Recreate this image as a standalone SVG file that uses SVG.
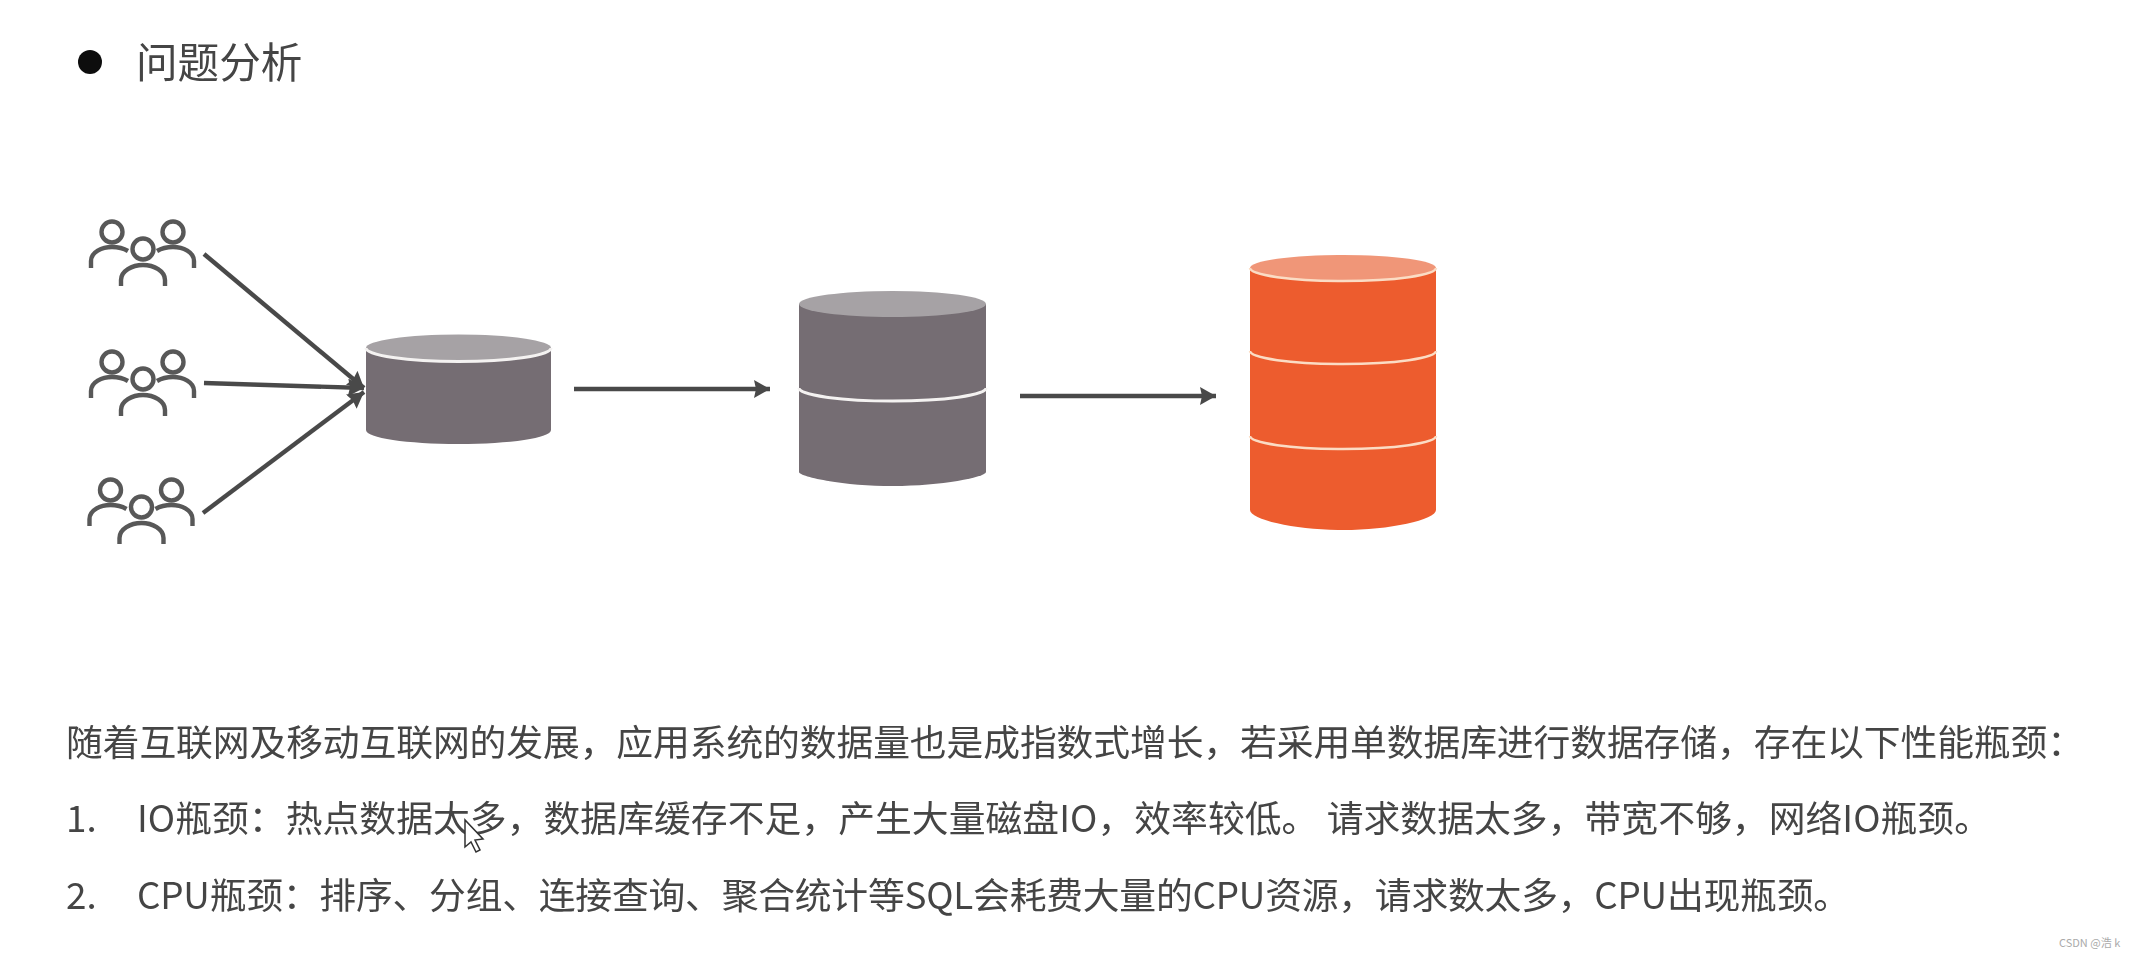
<svg xmlns="http://www.w3.org/2000/svg" width="2134" height="958" viewBox="0 0 2134 958">
<style>
text{font-family:"Noto Sans CJK SC","Noto Sans",sans-serif;fill:#454545;font-size:36.8px}
.u{fill:none;stroke:#595959;stroke-width:4.400}
.c{stroke:#4a4a4a;stroke-width:4.400;fill:none;marker-end:url(#a)}
.gb{fill:#756d73}.gt{fill:#a6a2a5}.ob{fill:#ed5c2e}.ot{fill:#f09678}
.ws{fill:none;stroke:#f4f2f1;stroke-width:3}.os{fill:none;stroke:#fbdcc4;stroke-width:2.500}
</style>
<defs>
<filter id="b" x="-2%" y="-2%" width="104%" height="104%"><feGaussianBlur stdDeviation="0.6"/></filter>
<marker id="a" markerUnits="userSpaceOnUse" markerWidth="20" markerHeight="20" refX="16" refY="9" orient="auto"><path d="M0 0L16 9L0 18L2 9Z" fill="#4a4a4a"/></marker>
<g id="users">
<circle class="u" cx="112" cy="232" r="10.500"/><circle class="u" cx="173" cy="232" r="10.500"/><circle class="u" cx="143" cy="249" r="10.500"/>
<path class="u" d="M91 268V261C91 252 102 247 112 247C118 247 123 248 128 251"/>
<path class="u" d="M194 268V261C194 252 183 247 173 247C167 247 162 248 157 251"/>
<path class="u" d="M121 286V280C121 271 132 265 143 265C154 265 165 271 165 280V286"/>
</g>
</defs>
<rect width="2134" height="958" fill="#fff"/>
<g filter="url(#b)">
<g id="title"><circle cx="90" cy="62" r="12" fill="#111"/><text x="136" y="78" style="font-size:41.600px">问题分析</text></g>
<g id="users1"><use href="#users"/></g>
<g id="users2"><use href="#users" y="130"/></g>
<g id="users3"><use href="#users" x="-1.500" y="258"/></g>
<g id="connectors">
<path class="c" d="M204 254L364 388"/>
<path class="c" d="M204 383L364 388"/>
<path class="c" d="M203 513L364 392"/>
<path class="c" d="M574 389H770"/>
<path class="c" d="M1020 396H1216"/>
</g>
<g id="db1">
<path class="gb" d="M366 348V430C366 438 407 444 458.500 444C510 444 551 438 551 430V348Z"/>
<ellipse class="gt" cx="458.500" cy="348" rx="92.500" ry="13.500"/>
<path class="ws" d="M366 348A92.500 13.500 0 0 0 551 348"/>
</g>
<g id="db2">
<path class="gb" d="M799 304V472C799 477 845 486 893 486C941 486 986 477 986 472V304Z"/>
<ellipse class="gt" cx="892.500" cy="304" rx="93.500" ry="13"/>
<path class="ws" d="M799 388A93.500 13 0 0 0 986 388"/>
</g>
<g id="db3">
<path class="ob" d="M1250 270V510C1250 520 1297 530 1343 530C1389 530 1436 520 1436 510V270Z"/>
<ellipse class="ot" cx="1343" cy="268" rx="93" ry="13"/>
<path class="os" d="M1250 268A93 13 0 0 0 1436 268"/>
<path class="os" d="M1250 351A93 13 0 0 0 1436 351"/>
<path class="os" d="M1250 436A93 13 0 0 0 1436 436"/>
</g>
<g id="body">
<text x="66" y="756" textLength="2018">随着互联网及移动互联网的发展，应用系统的数据量也是成指数式增长，若采用单数据库进行数据存储，存在以下性能瓶颈：</text>
<text x="66" y="832">1.</text>
<text x="137" y="832" textLength="1854">IO瓶颈：热点数据太多，数据库缓存不足，产生大量磁盘IO，效率较低。 请求数据太多，带宽不够，网络IO瓶颈。</text>
<text x="66" y="909">2.</text>
<text x="137" y="909" textLength="1713">CPU瓶颈：排序、分组、连接查询、聚合统计等SQL会耗费大量的CPU资源，请求数太多，CPU出现瓶颈。</text>
</g>
<path id="cursor" d="M465 820V847L471 842L476 852L480 850L475 840L483 839Z" fill="#fff" stroke="#333" stroke-width="1.500"/>
</g>
<text id="mark" x="2059" y="947" style="font-size:11px;fill:#aaa">CSDN @浩 k</text>
</svg>
